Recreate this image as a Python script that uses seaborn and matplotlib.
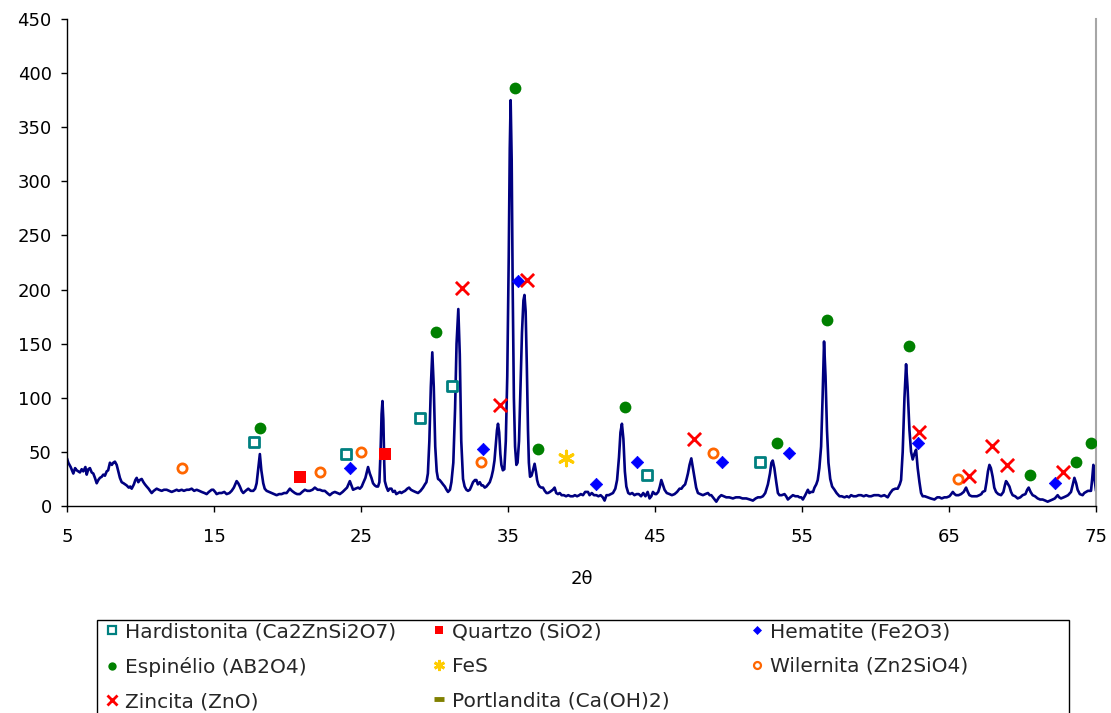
import matplotlib
matplotlib.use("Agg")
import matplotlib.pyplot as plt
import seaborn as sns
from matplotlib.lines import Line2D
from matplotlib.patches import Rectangle

# ---------------- data ----------------
two_theta = [
    5.00, 5.09, 5.25, 5.43, 5.55, 5.66, 5.88, 6.00, 6.11, 6.25, 6.34, 6.45, 6.56, 6.68, 6.79, 6.90,
    7.02, 7.13, 7.24, 7.36, 7.47, 7.58, 7.70, 7.80, 7.92, 8.05, 8.15, 8.26, 8.38, 8.49, 8.60, 8.72,
    8.85, 8.95, 9.06, 9.20, 9.30, 9.40, 9.55, 9.65, 9.74, 9.85, 9.95, 10.08, 10.20, 10.30, 10.42,
    10.55, 10.65, 10.76, 10.90, 11.00, 11.10, 11.25, 11.44, 11.60, 11.78, 11.95, 12.12, 12.30, 12.46,
    12.60, 12.80, 12.95, 13.14, 13.30, 13.48, 13.65, 13.82, 14.00, 14.16, 14.35, 14.50, 14.65, 14.84,
    14.95, 15.08, 15.18, 15.35, 15.52, 15.70, 15.86, 16.05, 16.20, 16.35, 16.54, 16.65, 16.76, 16.88,
    16.99, 17.15, 17.33, 17.50, 17.67, 17.80, 17.90, 18.00, 18.12, 18.22, 18.35, 18.45, 18.58, 18.75,
    18.92, 19.10, 19.26, 19.43, 19.60, 19.77, 19.94, 20.05, 20.16, 20.30, 20.50, 20.65, 20.84, 21.00,
    21.18, 21.35, 21.52, 21.70, 21.86, 22.05, 22.20, 22.38, 22.54, 22.70, 22.88, 23.05, 23.22, 23.40,
    23.56, 23.75, 23.90, 24.05, 24.24, 24.35, 24.46, 24.62, 24.80, 24.92, 25.05, 25.14, 25.30, 25.48,
    25.60, 25.71, 25.82, 25.94, 26.05, 26.16, 26.25, 26.33, 26.40, 26.46, 26.52, 26.58, 26.62, 26.72,
    26.84, 26.95, 27.07, 27.18, 27.30, 27.40, 27.52, 27.65, 27.75, 27.86, 28.00, 28.15, 28.27, 28.40,
    28.54, 28.70, 28.88, 29.05, 29.22, 29.35, 29.45, 29.55, 29.65, 29.75, 29.85, 29.95, 30.05, 30.15,
    30.24, 30.35, 30.47, 30.58, 30.70, 30.82, 30.92, 31.05, 31.15, 31.28, 31.40, 31.50, 31.62, 31.72,
    31.82, 31.94, 32.05, 32.17, 32.28, 32.40, 32.50, 32.62, 32.75, 32.85, 32.95, 33.08, 33.20, 33.30,
    33.42, 33.53, 33.65, 33.76, 33.88, 33.98, 34.08, 34.16, 34.25, 34.32, 34.40, 34.48, 34.55, 34.65,
    34.75, 34.85, 34.95, 35.05, 35.12, 35.18, 35.25, 35.32, 35.40, 35.48, 35.57, 35.65, 35.75, 35.85,
    35.95, 36.05, 36.12, 36.20, 36.28, 36.36, 36.42, 36.50, 36.60, 36.70, 36.81, 36.90, 36.98, 37.06,
    37.15, 37.26, 37.38, 37.50, 37.62, 37.72, 37.85, 37.95, 38.05, 38.17, 38.28, 38.40, 38.52, 38.65,
    38.80, 38.95, 39.10, 39.25, 39.42, 39.55, 39.70, 39.85, 39.95, 40.10, 40.25, 40.44, 40.55, 40.70,
    40.85, 41.01, 41.15, 41.30, 41.45, 41.57, 41.70, 41.85, 42.00, 42.14, 42.30, 42.42, 42.55, 42.65,
    42.75, 42.85, 42.95, 43.05, 43.18, 43.30, 43.45, 43.60, 43.75, 43.90, 44.05, 44.20, 44.35, 44.50,
    44.63, 44.75, 44.86, 45.00, 45.09, 45.22, 45.33, 45.43, 45.53, 45.65, 45.80, 45.99, 46.15, 46.33,
    46.50, 46.67, 46.80, 46.90, 47.05, 47.15, 47.24, 47.35, 47.47, 47.58, 47.69, 47.80, 47.92, 48.08,
    48.26, 48.42, 48.60, 48.72, 48.83, 49.00, 49.17, 49.35, 49.51, 49.68, 49.85, 50.05, 50.30, 50.50,
    50.75, 50.95, 51.21, 51.45, 51.66, 51.85, 52.00, 52.18, 52.34, 52.50, 52.68, 52.82, 52.92, 53.01,
    53.12, 53.25, 53.36, 53.47, 53.62, 53.81, 53.92, 54.04, 54.20, 54.38, 54.55, 54.72, 54.83, 54.95,
    55.06, 55.22, 55.40, 55.50, 55.62, 55.75, 55.85, 55.97, 56.07, 56.18, 56.30, 56.40, 56.50, 56.60,
    56.70, 56.80, 56.92, 57.05, 57.21, 57.35, 57.55, 57.70, 57.89, 58.05, 58.20, 58.34, 58.50, 58.68,
    58.85, 59.02, 59.20, 59.36, 59.55, 59.70, 59.90, 60.04, 60.20, 60.38, 60.60, 60.83, 61.00, 61.17,
    61.35, 61.51, 61.65, 61.74, 61.85, 61.97, 62.08, 62.18, 62.31, 62.42, 62.53, 62.64, 62.76, 62.87,
    62.99, 63.10, 63.21, 63.35, 63.55, 63.75, 64.01, 64.20, 64.35, 64.50, 64.69, 64.85, 65.03, 65.15,
    65.26, 65.38, 65.48, 65.65, 65.82, 66.00, 66.16, 66.28, 66.39, 66.55, 66.73, 66.90, 67.07, 67.20,
    67.29, 67.45, 67.55, 67.65, 67.75, 67.85, 67.97, 68.08, 68.20, 68.35, 68.54, 68.70, 68.80, 68.88,
    68.98, 69.11, 69.22, 69.33, 69.50, 69.67, 69.85, 70.01, 70.20, 70.32, 70.42, 70.55, 70.69, 70.85,
    71.03, 71.20, 71.37, 71.55, 71.71, 71.88, 72.05, 72.20, 72.39, 72.50, 72.62, 72.80, 72.96, 73.10,
    73.30, 73.42, 73.53, 73.65, 73.75, 73.90, 74.09, 74.20, 74.32, 74.45, 74.55, 74.66, 74.74, 74.82,
    74.90, 75.00,
]
intensity = [
    44, 40, 36, 30, 35, 33, 31, 34, 32, 36, 29, 34, 35, 31, 30, 26,
    21, 24, 26, 27, 29, 28, 32, 33, 40, 38, 40, 41, 38, 32, 26, 22,
    21, 20, 19, 17, 18, 16, 20, 24, 26, 22, 24, 25, 22, 20, 18,
    16, 14, 12, 14, 15, 16, 15, 14, 15, 15, 14, 13, 14, 15,
    14, 15, 14, 15, 15, 16, 14, 15, 14, 13, 12, 11, 13, 15,
    15, 13, 11, 12, 12, 13, 11, 12, 14, 17, 23, 21, 18, 14,
    12, 14, 16, 14, 14, 16, 21, 33, 48, 33, 21, 16, 14, 13,
    12, 11, 10, 11, 11, 12, 12, 14, 16, 14, 12, 11, 11, 13,
    15, 14, 14, 15, 17, 15, 15, 14, 14, 12, 10, 12, 13, 12,
    11, 13, 15, 17, 23, 19, 15, 16, 17, 16, 18, 21, 26, 36,
    30, 26, 21, 19, 18, 18, 22, 50, 85, 97, 80, 40, 23, 18,
    14, 16, 16, 13, 14, 11, 12, 13, 12, 13, 14, 16, 17, 15,
    14, 13, 12, 14, 17, 20, 22, 30, 60, 110, 142, 110, 55, 32,
    25, 24, 22, 20, 18, 15, 13, 15, 22, 40, 90, 150, 182, 140,
    60, 25, 18, 15, 14, 15, 18, 22, 24, 24, 20, 22, 19, 19,
    17, 18, 20, 22, 27, 33, 42, 55, 70, 76, 68, 48, 38, 33,
    34, 60, 120, 230, 330, 375, 320, 200, 100, 55, 38, 40, 60, 110,
    160, 190, 195, 180, 130, 70, 40, 27, 28, 33, 39, 32, 24, 20,
    18, 17, 17, 14, 12, 12, 13, 14, 15, 17, 12, 11, 12, 10,
    10, 9, 10, 9, 9, 10, 9, 10, 11, 10, 13, 13, 10, 12,
    10, 10, 9, 10, 8, 5, 10, 10, 11, 12, 16, 24, 45, 68,
    76, 62, 32, 18, 12, 11, 12, 10, 11, 11, 9, 12, 9, 13,
    7, 9, 13, 11, 11, 13, 18, 24, 20, 15, 12, 11, 10, 11,
    13, 16, 16, 18, 20, 25, 30, 38, 44, 35, 26, 17, 12, 11,
    10, 11, 12, 10, 10, 7, 4, 8, 10, 9, 8, 8, 7, 8,
    8, 7, 7, 6, 5, 7, 8, 8, 9, 12, 20, 30, 40, 42,
    35, 22, 12, 10, 10, 11, 9, 6, 8, 10, 9, 9, 8, 8,
    6, 10, 15, 12, 13, 13, 17, 20, 24, 35, 55, 100, 152, 120,
    70, 40, 25, 18, 15, 12, 9, 9, 8, 9, 8, 10, 9, 9,
    10, 10, 9, 10, 9, 9, 10, 10, 10, 9, 10, 8, 12, 15,
    16, 16, 20, 24, 50, 100, 131, 110, 70, 50, 43, 48, 52, 35,
    22, 12, 9, 9, 8, 7, 6, 8, 8, 7, 8, 8, 9, 11,
    13, 11, 10, 10, 11, 13, 17, 13, 10, 9, 9, 9, 10, 11,
    13, 14, 22, 32, 38, 35, 27, 17, 13, 11, 10, 13, 19, 23,
    21, 18, 13, 10, 9, 7, 8, 10, 11, 15, 17, 13, 10, 9,
    7, 6, 6, 5, 4, 5, 6, 7, 10, 8, 7, 8, 9, 10,
    13, 20, 26, 21, 15, 11, 10, 12, 13, 14, 14, 14, 25, 38,
    25, 14,
]

hard_x = [17.73, 23.97, 28.98, 31.19, 44.45, 52.13]
hard_y = [59, 48, 81, 111, 29, 41]
quartz_x = [20.82, 26.62]
quartz_y = [27, 48]
hema_x = [24.24, 33.30, 35.68, 40.96, 43.77, 49.57, 54.10, 62.92, 72.21]
hema_y = [35, 53, 208, 20, 41, 41, 49, 58.5, 21.5]
spin_x = [18.12, 30.07, 35.48, 37.06, 42.95, 53.32, 56.70, 62.28, 70.48, 73.67, 74.69]
spin_y = [72, 161, 386, 53, 91.5, 58.5, 171.5, 147.5, 28.6, 40.7, 58.2]
fes_x = [38.97]
fes_y = [44.7]
wil_x = [12.84, 22.20, 24.99, 33.19, 48.94, 65.59]
wil_y = [35, 31, 49.6, 41, 49.3, 25]
zinc_x = [31.88, 34.48, 36.29, 47.62, 62.99, 66.39, 67.90, 68.92, 72.78]
zinc_y = [201.5, 93.3, 208.8, 61.6, 68.7, 27.7, 55.4, 37.6, 31.7]

labels = ["Hardistonita (Ca2ZnSi2O7)", "Quartzo (SiO2)", "Hematite (Fe2O3)",
          "Espinélio (AB2O4)", "FeS", "Wilernita (Zn2SiO4)",
          "Zincita (ZnO)", "Portlandita (Ca(OH)2)"]
x_ticks = [5, 15, 25, 35, 45, 55, 65, 75]
y_ticks = [0, 50, 100, 150, 200, 250, 300, 350, 400, 450]

# ---------------- styling ----------------
sns.set_theme(style="white")
plt.rcParams['font.family'] = ['DejaVu Sans']

W, H = 1111, 713
fig = plt.figure(figsize=(W / 100, H / 100), dpi=100)
ax = fig.add_axes([67 / W, 1 - 506 / H, (1096 - 67) / W, (506 - 19) / H])

sns.lineplot(x=two_theta, y=intensity, ax=ax, color='#000080', linewidth=1.9,
             estimator=None, sort=False, zorder=2)

TEAL, RED, BLUE, GREEN, ORANGE, YELLOW, OLIVE = ('#008080', '#FF0000', '#0000FF',
                                                 '#008000', '#FF6600', '#FFCC00', '#808000')

sns.scatterplot(x=hard_x, y=hard_y, ax=ax, marker='s', s=50, facecolor='white',
                edgecolor=TEAL, linewidth=2.0, zorder=4)
sns.scatterplot(x=quartz_x, y=quartz_y, ax=ax, marker='s', s=80, color=RED,
                edgecolor=RED, linewidth=0, zorder=4)
sns.scatterplot(x=hema_x, y=hema_y, ax=ax, marker='D', s=40, color=BLUE,
                edgecolor=BLUE, linewidth=0.5, zorder=4)
sns.scatterplot(x=spin_x, y=spin_y, ax=ax, marker='o', s=72, color=GREEN,
                edgecolor=GREEN, linewidth=0, zorder=4)
sns.scatterplot(x=fes_x, y=fes_y, ax=ax, marker=(6, 2, 0), s=110, color=YELLOW,
                linewidth=2.2, zorder=4)
sns.scatterplot(x=wil_x, y=wil_y, ax=ax, marker='o', s=44, facecolor='white',
                edgecolor=ORANGE, linewidth=2.0, zorder=4)
sns.scatterplot(x=zinc_x, y=zinc_y, ax=ax, marker='x', s=90, color=RED,
                linewidth=2.0, zorder=4)

ax.set_xlim(5, 75)
ax.set_ylim(0, 450)
ax.set_xticks(x_ticks)
ax.set_yticks(y_ticks)
ax.set_xlabel('2θ', fontsize=13, color='black', labelpad=17)
ax.set_ylabel('')
ax.tick_params(axis='both', which='major', direction='out', length=4, width=1,
               color='black', labelsize=13, labelcolor='black', bottom=True, left=True)
ax.tick_params(axis='x', pad=12)
ax.tick_params(axis='y', pad=7)
ax.spines['top'].set_visible(False)
ax.spines['right'].set_color('#A6A6A6')
ax.spines['right'].set_linewidth(1.5)
for side in ('left', 'bottom'):
    ax.spines[side].set_color('black')
    ax.spines[side].set_linewidth(1.0)
ax.grid(False)

# ---------------- legend (3 columns, row-major like the reference) ----------------
def h(marker, color, ms, face=None, mew=1.5):
    return Line2D([], [], linestyle='none', marker=marker, markersize=ms,
                  markerfacecolor=face if face is not None else color,
                  markeredgecolor=color, markeredgewidth=mew)

handles = {
    labels[0]: h('s', TEAL, 5.2, face='white', mew=1.6),
    labels[1]: h('s', RED, 6.0, mew=0),
    labels[2]: h('D', BLUE, 4.4, mew=0.5),
    labels[3]: h('o', GREEN, 6.0, mew=0),
    labels[4]: h((6, 2, 0), YELLOW, 8, mew=2.0),
    labels[5]: h('o', ORANGE, 5.0, face='white', mew=1.6),
    labels[6]: h('x', RED, 7.5, mew=2.0),
    labels[7]: h('_', OLIVE, 6.5, mew=3.5),
}
columns = [[labels[0], labels[3], labels[6]],
           [labels[1], labels[4], labels[7]],
           [labels[2], labels[5]]]
LEG_FS = 14.5
col_left = [104, 431, 749]
for cx, col in zip(col_left, columns):
    fig.legend([handles[l] for l in col], col, loc='upper left',
               bbox_to_anchor=(cx / W, 1 - 622 / H), frameon=False, fontsize=LEG_FS,
               handlelength=0.75, handletextpad=0.3, labelspacing=0.78,
               borderpad=0, borderaxespad=0)

fig.add_artist(Rectangle((97 / W, -0.05), (1069 - 97) / W, (713 - 620) / H + 0.05,
                         transform=fig.transFigure, fill=False, edgecolor='black',
                         linewidth=1.0))

fig.savefig('out.png', dpi=100)
